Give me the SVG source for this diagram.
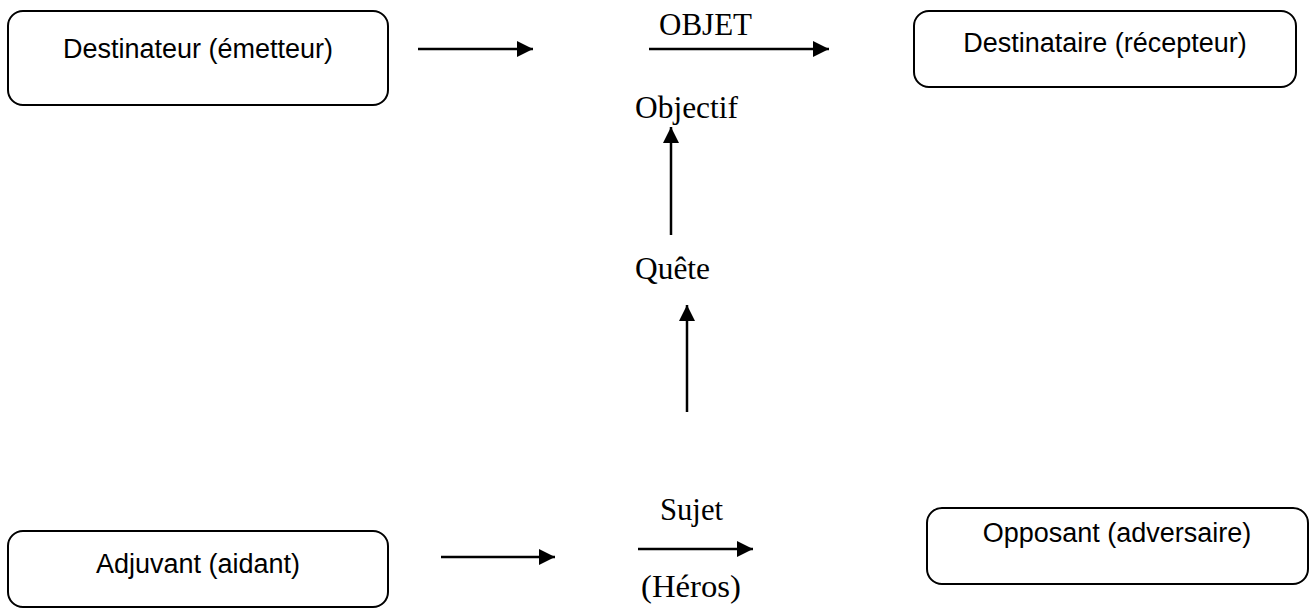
<svg xmlns="http://www.w3.org/2000/svg" width="1311" height="608" viewBox="0 0 1311 608">
<style>
.box{fill:#fff;stroke:#000;stroke-width:2}
.bt{font-family:"Liberation Sans",Arial,sans-serif;font-size:27px;fill:#000;text-anchor:middle}
.lt{font-family:"Liberation Serif","Times New Roman",serif;font-size:31px;fill:#000}
.ln{stroke:#000;stroke-width:2.5;fill:none;marker-end:url(#ah)}
</style>
<defs>
<marker id="ah" viewBox="0 0 16 16" refX="16" refY="8" markerWidth="16" markerHeight="16" markerUnits="userSpaceOnUse" orient="auto">
<path d="M0,0 L16,8 L0,16 Z" fill="#000"/>
</marker>
</defs>
<rect width="1311" height="608" fill="#fff"/>
<g id="destinateur">
<rect class="box" x="8" y="11" width="380" height="94" rx="15"/>
<text class="bt" x="198" y="58">Destinateur (émetteur)</text>
</g>
<g id="destinataire">
<rect class="box" x="914" y="11" width="382" height="76" rx="15"/>
<text class="bt" x="1105" y="52">Destinataire (récepteur)</text>
</g>
<g id="adjuvant">
<rect class="box" x="8" y="531" width="380" height="76" rx="15"/>
<text class="bt" x="198" y="573">Adjuvant (aidant)</text>
</g>
<g id="opposant">
<rect class="box" x="927" y="508" width="381" height="76" rx="15"/>
<text class="bt" x="1117" y="542">Opposant (adversaire)</text>
</g>
<g id="labels">
<text class="lt" x="659" y="35" textLength="93" lengthAdjust="spacingAndGlyphs">OBJET</text>
<text class="lt" x="635" y="118" textLength="103" lengthAdjust="spacingAndGlyphs">Objectif</text>
<text class="lt" x="635" y="279" textLength="75" lengthAdjust="spacingAndGlyphs">Quête</text>
<text class="lt" x="660" y="520" textLength="63" lengthAdjust="spacingAndGlyphs">Sujet</text>
<text class="lt" x="641" y="597" textLength="100" lengthAdjust="spacingAndGlyphs">(Héros)</text>
</g>
<g id="connectors">
<line class="ln" x1="418" y1="49" x2="533" y2="49"/>
<line class="ln" x1="649" y1="49" x2="829" y2="49"/>
<line class="ln" x1="671" y1="235" x2="671" y2="127"/>
<line class="ln" x1="687" y1="412" x2="687" y2="305"/>
<line class="ln" x1="441" y1="557" x2="555" y2="557"/>
<line class="ln" x1="638" y1="549" x2="753" y2="549"/>
</g>
</svg>
